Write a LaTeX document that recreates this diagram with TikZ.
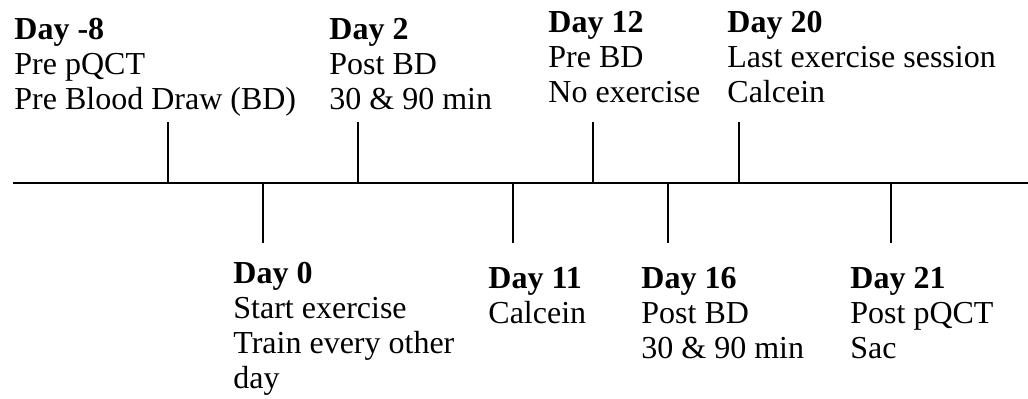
\documentclass[tikz,border=0pt]{standalone}
\usepackage{fontspec}
\setmainfont{Liberation Serif}
\usepackage{tikz}

\begin{document}
\begin{tikzpicture}[x=0.5pt, y=-0.5pt, day/.style={anchor=north west, align=left, inner sep=0pt, font=\fontsize{16}{17.5}\selectfont}]
    \useasboundingbox (0,0) rectangle (1028,398);
    \begin{scope}[every node/.style={day}]
      \node (m8) at (14,17.5) {\textbf{Day -8}\\Pre pQCT\\Pre Blood Draw (BD)};
      \node (d2) at (329,17.5) {\textbf{Day 2}\\Post BD\\30 \& 90 min};
      \node (d12) at (548,10.5) {\textbf{Day 12}\\Pre BD\\No exercise};
      \node (d20) at (727,10.5) {\textbf{Day 20}\\Last exercise session\\Calcein};
      \node (d0) at (233,261.5) {\textbf{Day 0}\\Start exercise\\Train every other\\day};
      \node (d11) at (488,266.5) {\textbf{Day 11}\\Calcein};
      \node (d16) at (641,266.5) {\textbf{Day 16}\\Post BD\\30 \& 90 min};
      \node (d21) at (850,266.5) {\textbf{Day 21}\\Post pQCT\\Sac};
    \end{scope}

    \coordinate (start) at (13,183);
    \coordinate (end) at (1028,183);
    \coordinate (a-8) at (168,183);  \coordinate (t-8) at (168,122);
    \coordinate (a2) at (358,183);   \coordinate (t2) at (358,122);
    \coordinate (a12) at (593,183);  \coordinate (t12) at (593,122);
    \coordinate (a20) at (739,183);  \coordinate (t20) at (739,122);
    \coordinate (a0) at (263,183);   \coordinate (t0) at (263,243);
    \coordinate (a11) at (513,183);  \coordinate (t11) at (513,243);
    \coordinate (a16) at (668,183);  \coordinate (t16) at (668,243);
    \coordinate (a21) at (891,183);  \coordinate (t21) at (891,243);

    \begin{scope}[line width=1pt]
      \draw (start) to (end);
      \draw (a-8) to (t-8);
      \draw (a2) to (t2);
      \draw (a12) to (t12);
      \draw (a20) to (t20);
      \draw (a0) to (t0);
      \draw (a11) to (t11);
      \draw (a16) to (t16);
      \draw (a21) to (t21);
    \end{scope}
\end{tikzpicture}
\end{document}
